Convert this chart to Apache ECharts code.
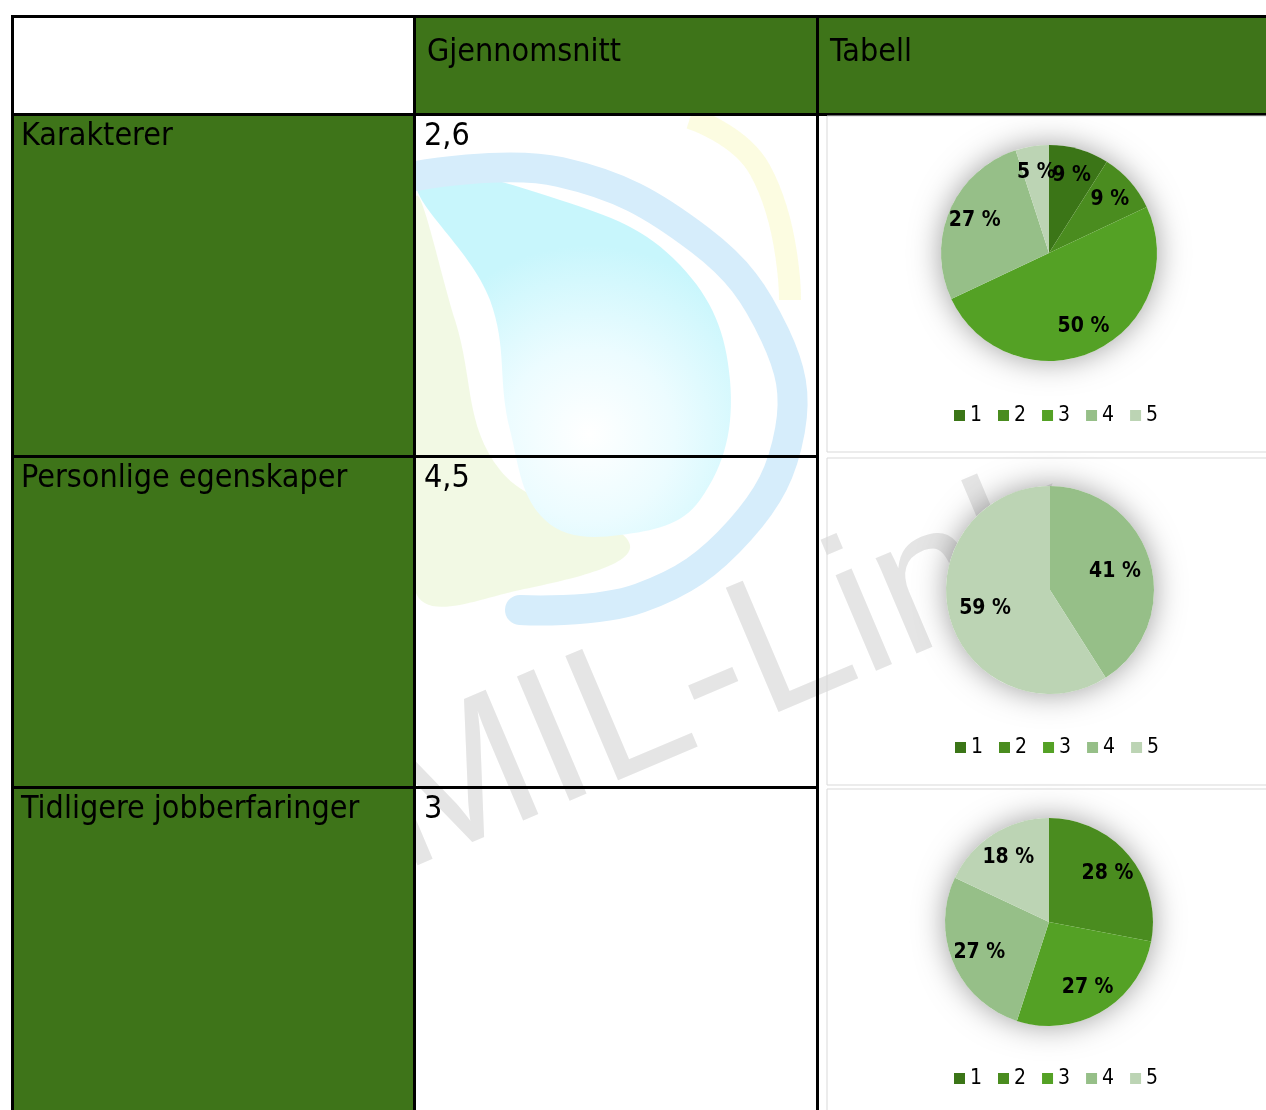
<!DOCTYPE html>
<html>
<head>
<meta charset="utf-8">
<script src="https://cdn.jsdelivr.net/npm/echarts@6/dist/echarts.min.js"></script>
<style>
html,body{margin:0;padding:0;background:#fff;}
#main{width:1266px;height:1110px;}
</style>
</head>
<body>
<div id="main"></div>
<script>
// ---- data ----
var headers = ['', 'Gjennomsnitt', 'Tabell'];
var rowNames = ['Karakterer', 'Personlige egenskaper', 'Tidligere jobberfaringer'];
var averages = ['2,6', '4,5', '3'];
var gradeNames = ['1', '2', '3', '4', '5'];
var pieKarakterer = [9, 9, 50, 27, 5];
var piePersonlige = [0, 0, 0, 41, 59];
var pieTidligere = [0, 28, 27, 27, 18];
var gradeColors = ['#3b7517', '#4a8c1f', '#54a125', '#96bf88', '#bcd4b4'];

// ---- layout ----
var GREEN = '#3e7419';
var FONT = '"DejaVu Sans Condensed", "DejaVu Sans", sans-serif';
var colX = [11, 413, 816, 1266];
var rowY = [15, 113, 455, 786, 1110];
var pieGeo = [
  {cx: 1049, cy: 253, r: 108, legendTop: 400, labelR: 0.75},
  {cx: 1050, cy: 590, r: 104, legendTop: 732, labelR: 0.65},
  {cx: 1049, cy: 922, r: 104, legendTop: 1063, labelR: 0.73}
];
var pieData = [pieKarakterer, piePersonlige, pieTidligere];

var chart = echarts.init(document.getElementById('main'), null, {renderer: 'canvas'});

var elements = [];

// watermark (behind everything)
elements.push({
  type: 'polygon', z: 0, silent: true,
  shape: {points: [[415,200],[455,320],[500,470],[630,545],[520,590],[415,590]], smooth: 0.4},
  style: {fill: 'rgba(232,244,205,0.55)'}
});
elements.push({
  type: 'polyline', z: 0, silent: true,
  shape: {points: [[690,118],[760,170],[790,300]], smooth: 0.5},
  style: {fill: null, stroke: 'rgba(251,251,212,0.7)', lineWidth: 22}
});
elements.push({
  type: 'polygon', z: 0, silent: true,
  shape: {points: [[418,178],[560,200],[680,265],[730,380],[700,500],[620,535],[545,520],[510,430],[490,300]], smooth: 0.4},
  style: {fill: {type: 'radial', x: 0.55, y: 0.72, r: 0.6,
    colorStops: [{offset: 0, color: 'rgba(255,255,255,1)'}, {offset: 0.45, color: 'rgba(236,252,255,1)'}, {offset: 1, color: 'rgba(200,246,252,1)'}]}}
});
elements.push({
  type: 'polyline', z: 0, silent: true,
  shape: {points: [[416,176],[560,172],[700,240],[775,335],[790,430],[740,530],[640,598],[520,610]], smooth: 0.4},
  style: {fill: null, stroke: '#d6edfb', lineWidth: 30, lineCap: 'round'}
});
elements.push({
  type: 'text', z: 0, silent: true,
  x: 420, y: 912, rotation: 23 * Math.PI / 180,
  style: {text: 'MIL-Link', fill: '#e5e5e5', font: '196px "Liberation Sans", sans-serif', verticalAlign: 'bottom'}
});

// green cells
function rect(x, y, w, h, fill, z) {
  return {type: 'rect', z: z, silent: true, shape: {x: x, y: y, width: w, height: h}, style: {fill: fill}};
}
elements.push(rect(colX[1], rowY[0], colX[3] - colX[1], rowY[1] - rowY[0], GREEN, 1));
elements.push(rect(colX[0], rowY[1], colX[1] - colX[0], rowY[4] - rowY[1], GREEN, 1));

// black grid lines
var LW = 3;
elements.push(rect(colX[0], rowY[0], colX[3] - colX[0], LW, '#000', 3));
elements.push(rect(colX[0], rowY[0], LW, rowY[4] - rowY[0], '#000', 3));
elements.push(rect(colX[1], rowY[0], LW, rowY[4] - rowY[0], '#000', 3));
elements.push(rect(colX[2], rowY[0], LW, rowY[4] - rowY[0], '#000', 3));
elements.push(rect(colX[0], rowY[1], colX[3] - colX[0], LW, '#000', 3));
for (var i = 2; i <= 3; i++) {
  // in the chart column the chart objects cover the row rules
  elements.push(rect(colX[0], rowY[i], colX[2] - colX[0] + LW, LW, '#000', 3));
}

// chart area boxes in the third column
var boxes = [[827, 116, 460, 336], [827, 458, 460, 327], [827, 789, 460, 330]];
boxes.forEach(function (b) {
  elements.push({type: 'rect', z: 4, silent: true, shape: {x: b[0], y: b[1], width: b[2], height: b[3]},
    style: {fill: 'rgba(255,255,255,0.0)', stroke: '#d9d9d9', lineWidth: 1}});
});

// texts
function txt(s, x, baseline) {
  return {type: 'text', z: 5, silent: true, x: x, y: baseline,
    style: {text: s, fill: '#000', font: '32px ' + FONT, verticalAlign: 'bottom'}};
}
elements.push(txt(headers[1], 427, 69));
elements.push(txt(headers[2], 830, 69));
var baselines = [153, 495, 826];
for (var k = 0; k < 3; k++) {
  elements.push(txt(rowNames[k], 21, baselines[k]));
  elements.push(txt(averages[k], 424, baselines[k]));
}

var series = [];
var legends = [];
var polars = [], angleAxes = [], radiusAxes = [];
pieGeo.forEach(function (g, idx) {
  var vals = pieData[idx];
  series.push({
    type: 'pie', z: 2, silent: true, center: [g.cx, g.cy], radius: g.r,
    data: [{value: 1, name: '_shadow' + idx}],
    itemStyle: {color: '#fff', shadowBlur: 30, shadowColor: 'rgba(0,0,0,0.38)'},
    label: {show: false}, labelLine: {show: false}, emphasis: {disabled: true}, animation: false
  });
  series.push({
    type: 'pie', z: 3, center: [g.cx, g.cy], radius: g.r, startAngle: 90, clockwise: true,
    animation: false,
    data: vals.map(function (v, j) { return {value: v, name: gradeNames[j], itemStyle: {color: gradeColors[j]}}; }),
    label: {show: false}, labelLine: {show: false}, emphasis: {disabled: true}
  });
  // labels via a polar scatter that shares the pie's geometry
  polars.push({center: [g.cx, g.cy], radius: g.r});
  angleAxes.push({polarIndex: idx, type: 'value', min: 0, max: 100, startAngle: 90, clockwise: true, show: false});
  radiusAxes.push({polarIndex: idx, type: 'value', min: 0, max: 1, show: false});
  var cum = 0, pts = [];
  vals.forEach(function (v) {
    if (v > 0) pts.push({value: [g.labelR, cum + v / 2], pct: v});
    cum += v;
  });
  series.push({
    type: 'scatter', coordinateSystem: 'polar', polarIndex: idx, z: 5, silent: true,
    symbolSize: 1, itemStyle: {color: 'rgba(0,0,0,0)'}, animation: false,
    data: pts,
    label: {show: true, position: 'inside', color: '#000', opacity: 1, textBorderWidth: 0, textShadowBlur: 0,
      fontFamily: FONT, fontWeight: 'bold', fontSize: 21,
      formatter: function (p) { return p.data.pct + ' %'; }},
    emphasis: {disabled: true}
  });
  legends.push({
    data: gradeNames, left: g.cx - 100, top: g.legendTop, orient: 'horizontal',
    itemWidth: 11, itemHeight: 11, itemGap: 16, icon: 'rect', selectedMode: false,
    textStyle: {fontFamily: FONT, fontSize: 21, color: '#000'}
  });
});

chart.setOption({
  animation: false,
  backgroundColor: '#fff',
  color: gradeColors,
  graphic: {elements: elements},
  polar: polars,
  angleAxis: angleAxes,
  radiusAxis: radiusAxes,
  legend: legends,
  series: series
});
</script>
</body>
</html>
